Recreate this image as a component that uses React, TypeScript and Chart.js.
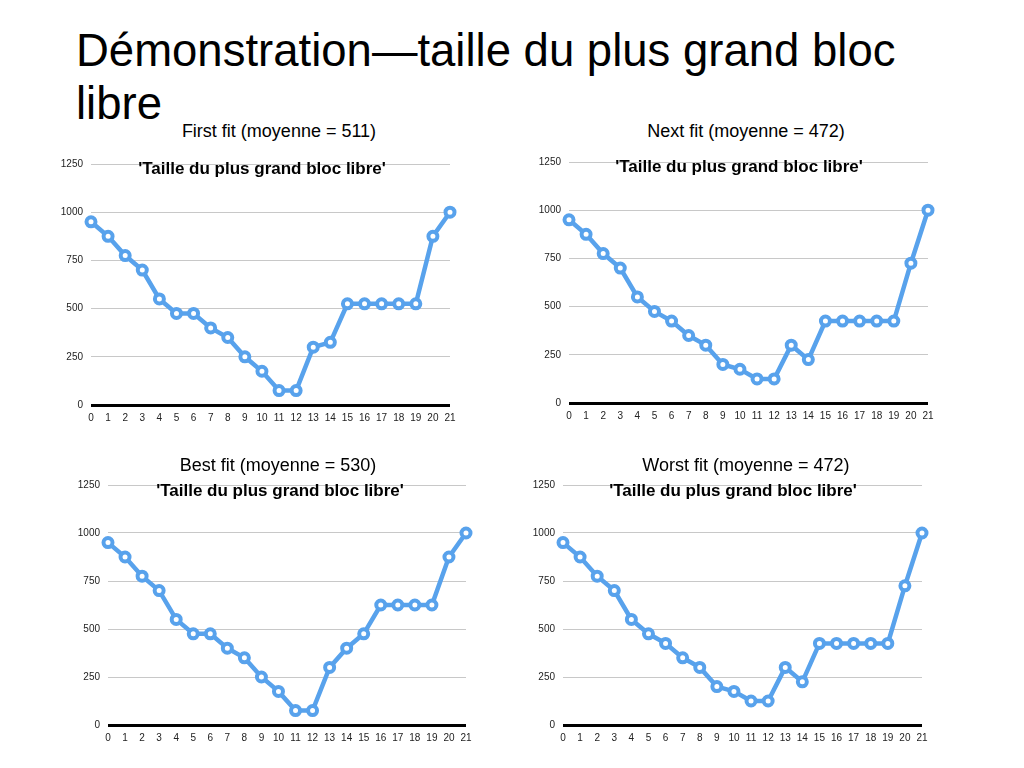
import React, { useEffect, useRef } from "react";
import { Chart, registerables } from "chart.js";

Chart.register(...registerables);

const categories: string[] = Array.from({ length: 22 }, (_, i) => String(i));

const firstFit: number[] = [950, 875, 775, 700, 550, 475, 475, 400, 350, 250, 175, 75, 75, 300, 325, 525, 525, 525, 525, 525, 875, 1000];
const nextFit: number[] = [950, 875, 775, 700, 550, 475, 425, 350, 300, 200, 175, 125, 125, 300, 225, 425, 425, 425, 425, 425, 725, 1000];
const bestFit: number[] = [950, 875, 775, 700, 550, 475, 475, 400, 350, 250, 175, 75, 75, 300, 400, 475, 625, 625, 625, 625, 875, 1000];
const worstFit: number[] = [950, 875, 775, 700, 550, 475, 425, 350, 300, 200, 175, 125, 125, 300, 225, 425, 425, 425, 425, 425, 725, 1000];

const yTicks: number[] = [0, 250, 500, 750, 1000, 1250];

const mainTitle = "Démonstration—taille du plus grand bloc libre";
const chartTitle = "'Taille du plus grand bloc libre'";
const subtitles: string[] = [
  "First fit (moyenne = 511)",
  "Next fit (moyenne = 472)",
  "Best fit (moyenne = 530)",
  "Worst fit (moyenne = 472)",
];

const FONT = "'Liberation Sans', Arial, sans-serif";
const LINE_COLOR = "#58a2ec";

type Panel = {
  data: number[];
  subtitle: string;
  area: { l: number; t: number; r: number; b: number };
  subCenter: number;
  subTop: number;
  titleCenter: number;
  titleTop: number;
};

const PAD_LEFT = 61;
const PAD_TOP = 12;
const PAD_RIGHT = 30;
const PAD_BOTTOM = 30;

const panels: Panel[] = [
  { data: firstFit, subtitle: subtitles[0], area: { l: 91, t: 162, r: 450, b: 405 }, subCenter: 279, subTop: 121, titleCenter: 262, titleTop: 159 },
  { data: nextFit, subtitle: subtitles[1], area: { l: 569, t: 160, r: 928, b: 403 }, subCenter: 746, subTop: 121, titleCenter: 739, titleTop: 157 },
  { data: bestFit, subtitle: subtitles[2], area: { l: 108, t: 483, r: 466, b: 725 }, subCenter: 278, subTop: 455, titleCenter: 280, titleTop: 481 },
  { data: worstFit, subtitle: subtitles[3], area: { l: 563, t: 483, r: 922, b: 725 }, subCenter: 746, subTop: 455, titleCenter: 733, titleTop: 481 },
];

function LineChart({ panel }: { panel: Panel }) {
  const ref = useRef<HTMLCanvasElement | null>(null);
  const { l, t, r, b } = panel.area;
  const left = l - PAD_LEFT;
  const top = t - PAD_TOP;
  const width = r + PAD_RIGHT - left;
  const height = b + PAD_BOTTOM - top;

  useEffect(() => {
    if (!ref.current) return;
    const chart = new Chart(ref.current, {
      type: "line",
      data: {
        labels: categories,
        datasets: [
          {
            data: panel.data,
            borderColor: LINE_COLOR,
            borderWidth: 4.5,
            pointRadius: 4.5,
            pointBorderWidth: 4,
            pointBackgroundColor: "#ffffff",
            pointBorderColor: LINE_COLOR,
            tension: 0,
            clip: false,
          } as any,
        ],
      },
      options: {
        responsive: false,
        animation: false,
        maintainAspectRatio: false,
        layout: { padding: { top: PAD_TOP, left: 0, right: PAD_RIGHT, bottom: 0 } },
        plugins: {
          legend: { display: false },
          title: { display: false },
          tooltip: { enabled: false },
        },
        scales: {
          x: {
            type: "category",
            offset: false,
            grid: { display: false, drawTicks: false },
            border: { display: false },
            ticks: {
              padding: 7,
              color: "#222",
              font: { family: FONT, size: 10 },
              maxRotation: 0,
              autoSkip: false,
            },
            afterFit: (scale: any) => {
              scale.height = PAD_BOTTOM;
            },
          },
          y: {
            min: 0,
            max: 1250,
            afterBuildTicks: (scale: any) => {
              scale.ticks = yTicks.map((v) => ({ value: v }));
            },
            grid: {
              drawTicks: false,
              color: (ctx: any) => (ctx.tick && ctx.tick.value === 0 ? "#000000" : "#c8c8c8"),
              lineWidth: (ctx: any) => (ctx.tick && ctx.tick.value === 0 ? 3 : 1),
            },
            border: { display: false },
            ticks: {
              padding: 8,
              color: "#222",
              font: { family: FONT, size: 10 },
              callback: (v: any) => String(v),
            },
            afterFit: (scale: any) => {
              scale.width = PAD_LEFT;
            },
          },
        },
      },
    });
    return () => chart.destroy();
  }, [panel]);

  return (
    <>
      <canvas
        ref={ref}
        width={width}
        height={height}
        style={{ position: "absolute", left, top, width, height }}
      />
      <div
        style={{
          position: "absolute",
          left: panel.subCenter - 150,
          top: panel.subTop,
          width: 300,
          textAlign: "center",
          fontFamily: FONT,
          fontSize: 18,
          lineHeight: "20px",
          color: "#000",
          whiteSpace: "nowrap",
        }}
      >
        {panel.subtitle}
      </div>
      <div
        style={{
          position: "absolute",
          left: panel.titleCenter - 170,
          top: panel.titleTop,
          width: 340,
          textAlign: "center",
          fontFamily: FONT,
          fontSize: 17,
          fontWeight: 900,
          lineHeight: "20px",
          color: "#000",
          whiteSpace: "nowrap",
        }}
      >
        {chartTitle}
      </div>
    </>
  );
}

export default function App() {
  return (
    <div
      style={{
        position: "absolute",
        left: 0,
        top: 0,
        width: 1024,
        height: 768,
        background: "#ffffff",
        overflow: "hidden",
      }}
    >
      <div
        style={{
          position: "absolute",
          left: 76,
          top: 24,
          width: 860,
          fontFamily: FONT,
          fontSize: 45.5,
          lineHeight: "53px",
          color: "#000",
        }}
      >
        {mainTitle}
      </div>
      {panels.map((p, i) => (
        <LineChart key={i} panel={p} />
      ))}
    </div>
  );
}
